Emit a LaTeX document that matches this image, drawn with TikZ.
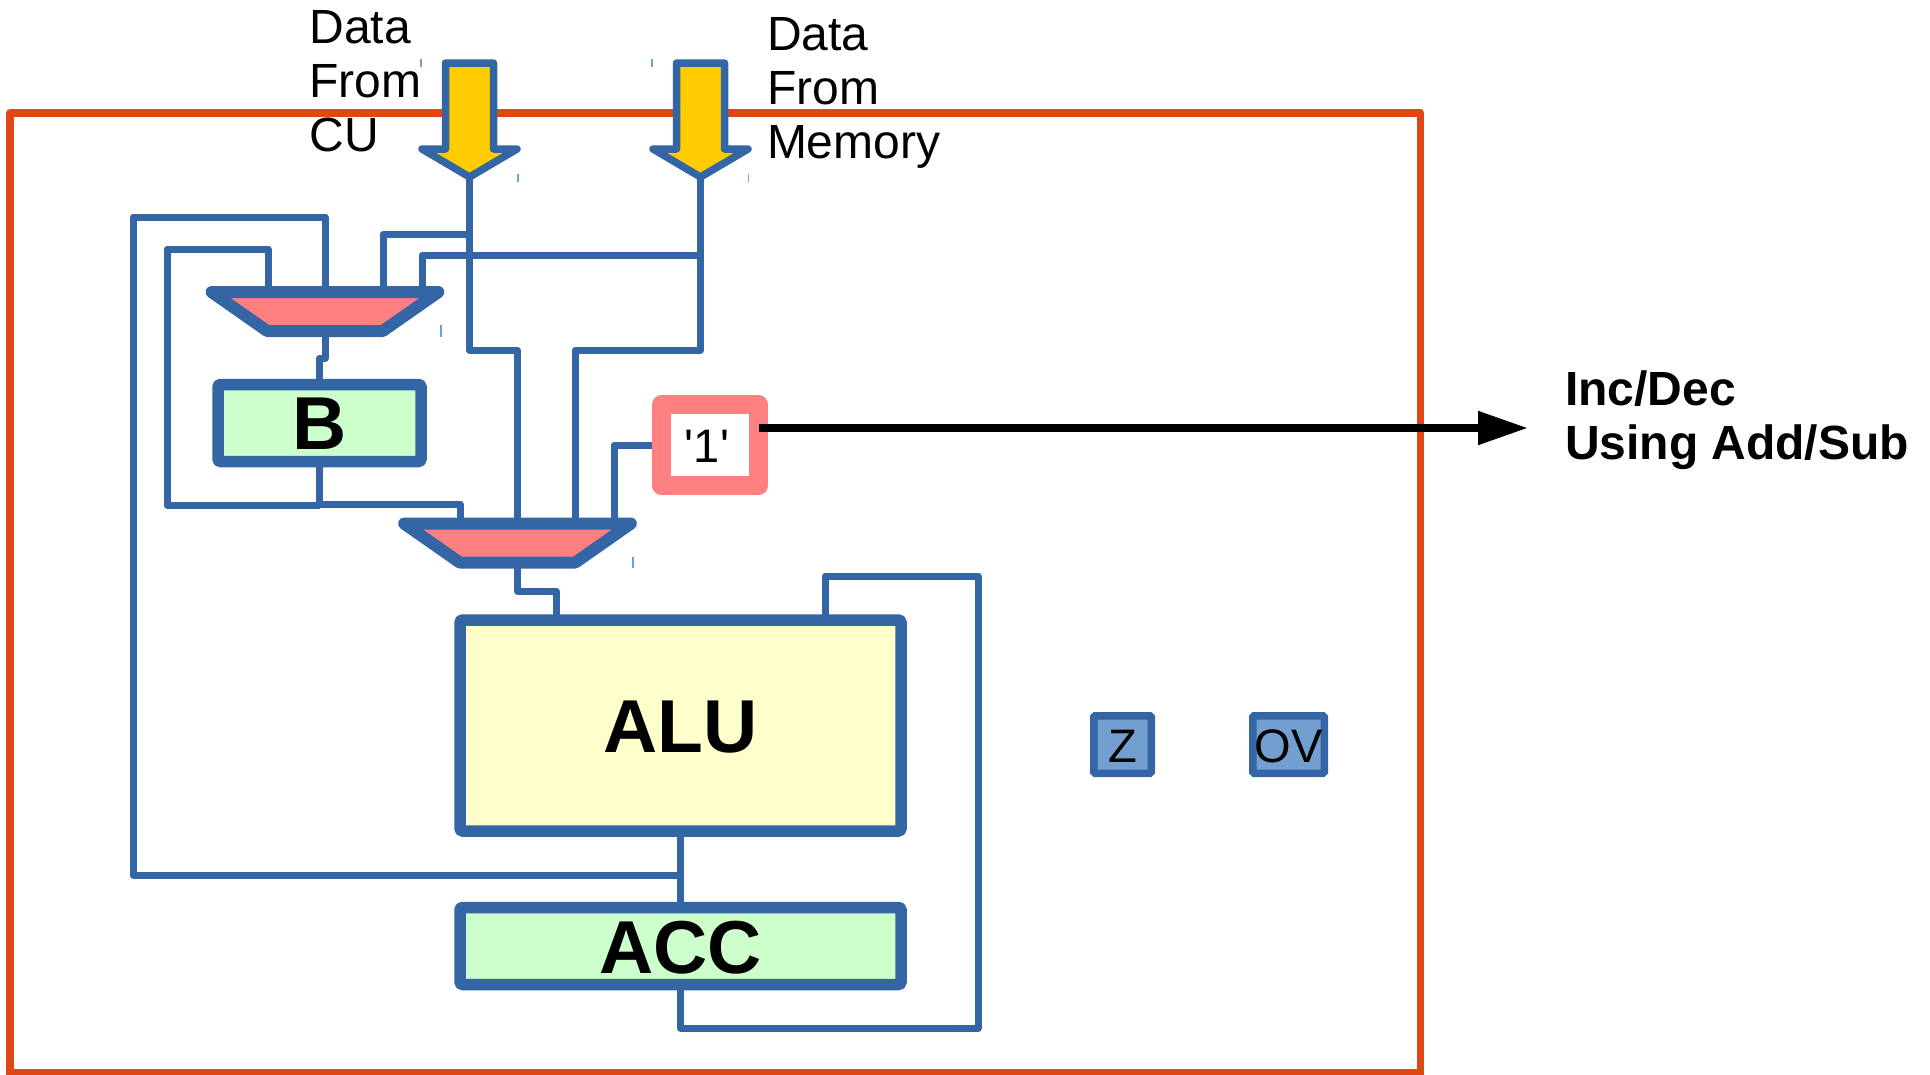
\documentclass[tikz,border=0pt]{standalone}
\usepackage{fontspec}
\setmainfont{Liberation Sans}
\newfontfamily\plainfont{Liberation Sans}
\usetikzlibrary{shapes.geometric,arrows.meta}
\definecolor{cblue}{HTML}{3465A4}
\definecolor{cpink}{HTML}{FF8080}
\definecolor{cgreen}{HTML}{CCFFCC}
\definecolor{cyell}{HTML}{FFFFCC}
\definecolor{cgold}{HTML}{FFCC00}
\definecolor{corange}{HTML}{DF4814}
\definecolor{cflag}{HTML}{729FCF}
\newcommand{\lowered}[2]{\raisebox{-#1pt}[\height][\depth]{#2}}
\tikzset{
  regbox/.style={draw=cblue,line width=11.5pt,rounded corners=1.5pt,line join=round,inner sep=0pt,outer sep=0pt,font=\fontsize{75}{75}\selectfont\bfseries},
  flagbox/.style={draw=cblue,fill=cflag,line width=7.5pt,rounded corners=1.5pt,inner sep=0pt,outer sep=0pt,minimum height=57.5pt,font=\fontsize{47}{47}\selectfont},
  constbox/.style={draw=cpink,fill=white,line width=19pt,line join=round,inner sep=0pt,outer sep=0pt},
  muxbox/.style={trapezium,shape border rotate=180,trapezium stretches body=true,trapezium angle=35,draw=cblue,fill=cpink,line width=12pt,line join=round,inner sep=3pt,outer sep=0pt,minimum width=227pt,minimum height=39pt},
  wire/.style={draw=cblue,line width=7pt,line join=round},
  busarrow/.style={draw=cblue,fill=cgold,line width=7.5pt,line join=round},
  label/.style={inner sep=0pt,outer sep=0pt,align=left,font=\fontsize{48}{54}\selectfont},
  boldlabel/.style={label,font=\fontsize{48}{54}\selectfont\bfseries},
  tick/.style={draw=cflag,line width=1.2pt}
}
\begin{document}
\begin{tikzpicture}[x=1pt,y=-1pt]
\useasboundingbox (0,0) rectangle (1930,1074);
\clip (0,0) rectangle (1930,1074);
% frame
\draw[corange,line width=7.5pt,line join=round] (10,1090) -- (10,113) -- (1420.5,113) -- (1420.5,1090);
\draw[corange,line width=7.5pt] (10,1073) -- (1420.5,1073);
% bus arrows
\draw[busarrow] (445.5,63) -- (493.5,63) -- (493.5,149) -- (517,149) -- (469.5,177) -- (422,149) -- (445.5,149) -- cycle;
\draw[busarrow] (676.5,63) -- (724.5,63) -- (724.5,149) -- (748,149) -- (700.5,177) -- (653,149) -- (676.5,149) -- cycle;
\coordinate (cuTip) at (469.5,179);
\coordinate (memTip) at (700.5,179);
% blocks
\node[muxbox] (muxOne) at (325,311.5) {\rule{0pt}{33pt}};
\node[muxbox] (muxTwo) at (517.5,543) {\rule{0pt}{33pt}};
\node[regbox,fill=cgreen,minimum width=203pt,minimum height=77pt] (regB) at (319.5,423) {\lowered{1}{B}};
\node[regbox,fill=cyell,minimum width=441pt,minimum height=211pt] (alu) at (680.5,725.5) {\lowered{2}{ALU}};
\node[regbox,fill=cgreen,minimum width=441pt,minimum height=77pt] (acc) at (680.5,946) {\lowered{2}{ACC}};
\node[constbox,minimum width=97pt,minimum height=81pt] (one) at (710,445) {};
\node[inner sep=0pt,font=\plainfont\fontsize{47}{47}\selectfont] (oneText) at (707,446) {'1'};
\node[flagbox,minimum width=57.5pt] (flagZ) at (1122.5,744.5) {\lowered{2}{Z}};
\node[flagbox,minimum width=71.5pt] (flagOV) at (1288.5,744.5) {\lowered{2}{OV}};
% connectors
\draw[wire] (cuTip) -- (469.5,350) -| (muxTwo.north);
\draw[wire] (469.5,234) -| ([xshift=58]muxOne.north);
\draw[wire] (memTip) -- (700.5,350) -| ([xshift=57.5]muxTwo.north);
\draw[wire] (700.5,255) -| ([xshift=97]muxOne.north);
\draw[wire] (muxOne.north) |- (133,217) -- (133,875) -- (680.5,875);
\draw[wire] ([xshift=-57]muxOne.north) |- (167,249) -- (167,505) -- (319.5,505);
\draw[wire] (regB.south) -- (319.5,504) -| ([xshift=-57.5]muxTwo.north);
\draw[wire] (muxOne.south) -- (325,358) -| (regB.north);
\draw[wire] ([xshift=-9.5]one.west |- 0,445) -| ([xshift=96.5]muxTwo.north);
\draw[wire] (muxTwo.south) -- (517.5,591) -| ([xshift=38.5]muxTwo.south |- alu.north);
\draw[wire] (alu.south) -- (acc.north);
\draw[wire] (acc.south) |- (978,1028) |- (825,576) -- ([xshift=144.5]alu.north);
\draw[line width=8pt,-{Triangle[length=50pt,width=32pt]}] (one.east |- 0,428) -- (1528,428);
% small selection marks
\draw[tick] (421,59) -- (421,67);
\draw[tick] (652,59) -- (652,67);
\draw[tick] (518,174) -- (518,182);
\draw[tick] (748.5,174) -- (748.5,182);
\draw[tick] (441,325) -- (441,337);
\draw[tick] (633,557) -- (633,568);
% labels
\node[label,anchor=north west] (lblCU) at (309.5,10) {Data\\From\\CU};
\node[label,anchor=north west] (lblMem) at (767,17) {Data\\From\\Memory};
\node[boldlabel,anchor=north west] (lblInc) at (1565,371) {Inc/Dec\\Using Add/Sub};
\end{tikzpicture}
\end{document}
